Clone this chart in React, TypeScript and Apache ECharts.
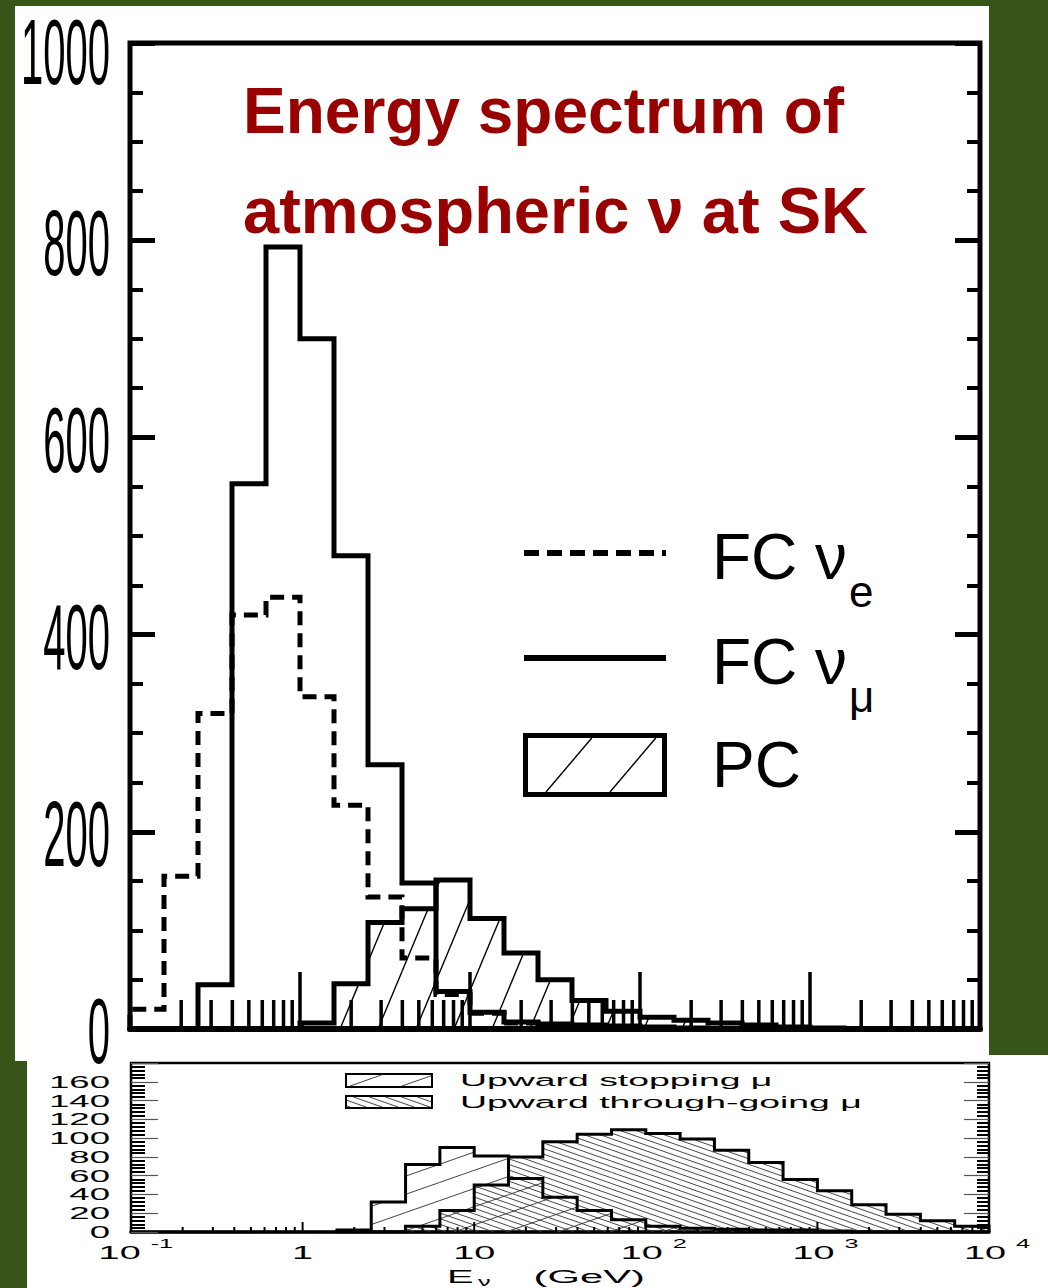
import React, { useEffect, useRef } from 'react';
import * as echarts from 'echarts';

const W = 1048;
const H = 1288;

// ---- Top panel: bins of 0.2 in log10(E/GeV) ----
const topBinLogEdges = [-1.0, -0.8, -0.6, -0.4, -0.2, 0.0, 0.2, 0.4, 0.6, 0.8, 1.0, 1.2, 1.4, 1.6, 1.8, 2.0, 2.2, 2.4, 2.6, 2.8, 3.0, 3.2];
const fcNuE = [20, 155, 320, 420, 438, 337, 227, 134, 72, 35, 16, 6, 3, 2, 1, 0, 0, 0, 0, 0, 0];
const fcNuMu = [0, 0, 45, 553, 793, 700, 480, 268, 148, 38, 17, 7, 5, 4, 3, 2, 1, 0, 0, 0, 0];
const pcEvents = [0, 0, 0, 0, 0, 6, 46, 108, 122, 151, 112, 77, 50, 29, 18, 12, 9, 6, 4, 2, 1];

// ---- Bottom panel ----
const bottomBinLogEdges = [0.2, 0.4, 0.6, 0.8, 1.0, 1.2, 1.4, 1.6, 1.8, 2.0, 2.2, 2.4, 2.6, 2.8, 3.0, 3.2, 3.4, 3.6, 3.8, 4.0];
const upStopMu = [2, 32, 72, 90, 81, 57, 37, 23, 13, 6, 4, 3, 2, 2, 1, 0, 0, 0, 0];
const upThruMu = [0, 0, 6, 23, 50, 80, 96, 104, 109, 105, 99, 87, 74, 56, 44, 29, 19, 12, 6];

// ---- Tick labels ----
const topYTickValues = [0, 200, 400, 600, 800, 1000];
const topYTickLabels = ['0', '200', '400', '600', '800', '1000'];
const bottomYTickValues = [0, 20, 40, 60, 80, 100, 120, 140, 160];
const bottomYTickLabels = ['0', '20', '40', '60', '80', '100', '120', '140', '160'];
const bottomXTickValues = [0.1, 1, 10, 100, 1000, 10000];
const bottomXTickBase = ['10', '1', '10', '10', '10', '10'];
const bottomXTickExp = ['-1', '', '', '2', '3', '4'];
const majorXTicks = [1, 10, 100, 1000];
const decadeStarts = [0.1, 1, 10, 100, 1000];
const minorMultipliers = [2, 3, 4, 5, 6, 7, 8, 9];
const minorXTicks: number[] = [];
decadeStarts.forEach((d) => minorMultipliers.forEach((m) => minorXTicks.push(d * m)));

const FONT = '"Liberation Sans", Arial, Helvetica, sans-serif';

function stepData(logEdges: number[], vals: number[]) {
  const pts: number[][] = [[Math.pow(10, logEdges[0]), 0]];
  vals.forEach((v, i) => pts.push([Math.pow(10, logEdges[i + 1]), v]));
  pts.push([Math.pow(10, logEdges[logEdges.length - 1]), 0]);
  return pts;
}

function binData(logEdges: number[], vals: number[]) {
  const out: number[][] = [];
  vals.forEach((v, i) => {
    if (v > 0) out.push([Math.pow(10, logEdges[i]), Math.pow(10, logEdges[i + 1]), v]);
  });
  return out;
}

function hatch(xa: number, xb: number, yt: number, yb: number, slope: number, spacing: number, dir: number, phase: number) {
  const segs: number[][] = [];
  const h = yb - yt;
  if (h <= 0.5 || xb - xa <= 0) return segs;
  const w = h / slope;
  const cMin = dir > 0 ? xa - w : xa;
  const cMax = dir > 0 ? xb : xb + w;
  const k0 = Math.floor((cMin - phase) / spacing);
  for (let k = k0; k < k0 + 500; k++) {
    const c = phase + k * spacing;
    if (c > cMax) break;
    let u1, u2;
    if (dir > 0) { u1 = (xa - c) * slope; u2 = (xb - c) * slope; }
    else { u1 = (c - xb) * slope; u2 = (c - xa) * slope; }
    const lo = Math.max(0, u1);
    const hi = Math.min(h, u2);
    if (hi - lo > 0.5) segs.push([c + (dir * lo) / slope, yb - lo, c + (dir * hi) / slope, yb - hi]);
  }
  return segs;
}

function hatchLines(segs: number[][], color: string, width: number) {
  return segs.map((s) => ({
    type: 'line',
    silent: true,
    shape: { x1: s[0], y1: s[1], x2: s[2], y2: s[3] },
    style: { stroke: color, lineWidth: width },
  }));
}

function hatchRenderer(slope: number, spacing: number, dir: number, phase: number, color: string, width: number) {
  return (params: any, api: any) => {
    const a = api.coord([api.value(0), 0]);
    const b = api.coord([api.value(1), api.value(2)]);
    const segs = hatch(a[0], b[0], b[1], a[1], slope, spacing, dir, phase);
    return { type: 'group', children: hatchLines(segs, color, width) };
  };
}

function tickRenderer(len: number, width: number) {
  return (params: any, api: any) => {
    const p = api.coord([api.value(0), 0]);
    return {
      type: 'line',
      shape: { x1: p[0], y1: p[1], x2: p[0], y2: p[1] - len },
      style: { stroke: '#000', lineWidth: width },
    };
  };
}

function logAxis(gridIndex: number, lineWidth: number) {
  return {
    type: 'log',
    logBase: 10,
    gridIndex,
    min: 0.1,
    max: 10000,
    axisLine: { show: true, onZero: false, lineStyle: { color: '#000', width: lineWidth } },
    axisTick: { show: false },
    axisLabel: { show: false },
    splitLine: { show: false },
    minorTick: { show: false },
    minorSplitLine: { show: false },
  };
}

function valAxis(gridIndex: number, position: string, max: number, interval: number, split: number,
  majLen: number, majW: number, majColor: string, minLen: number, minW: number) {
  return {
    type: 'value',
    gridIndex,
    position,
    min: 0,
    max,
    interval,
    axisLine: { show: false },
    axisLabel: { show: false },
    splitLine: { show: false },
    axisTick: { show: true, inside: true, length: majLen, lineStyle: { color: majColor, width: majW } },
    minorTick: { show: true, splitNumber: split, length: minLen, lineStyle: { color: '#000', width: minW } },
  };
}

function stepLine(name: string, xi: number, yi: number, data: number[][], width: number, dash?: number[]) {
  return {
    type: 'line',
    name,
    xAxisIndex: xi,
    yAxisIndex: yi,
    step: 'start',
    data,
    symbol: 'none',
    showSymbol: false,
    silent: true,
    z: 5,
    lineStyle: { color: '#000', width, type: dash ? dash : 'solid', join: 'miter', cap: 'butt' },
  };
}

function buildOption() {
  return {
    animation: false,
    backgroundColor: '#375519',
    grid: [
      { left: 130, top: 43, width: 850, height: 986, show: true, borderColor: '#000', borderWidth: 5, backgroundColor: 'transparent', containLabel: false, outerBoundsMode: 'none' },
      { left: 131, top: 1063, width: 858, height: 169, show: true, borderColor: '#000', borderWidth: 2.5, backgroundColor: 'transparent', containLabel: false, outerBoundsMode: 'none' },
    ],
    xAxis: [logAxis(0, 6), logAxis(1, 3.5)],
    yAxis: [
      valAxis(0, 'left', 1000, 200, 4, 25, 5, '#000', 13, 4),
      valAxis(0, 'right', 1000, 200, 4, 25, 5, '#000', 13, 4),
      valAxis(1, 'left', 180, 20, 5, 27, 1.2, '#555', 14, 2),
      valAxis(1, 'right', 180, 20, 5, 25, 1.2, '#555', 12, 2),
    ],
    series: [
      {
        type: 'custom', name: 'PC hatch', xAxisIndex: 0, yAxisIndex: 0, silent: true, z: 3,
        renderItem: hatchRenderer(2.4, 38, 1, 340, '#000', 1.4),
        encode: { x: [0, 1], y: 2 },
        data: binData(topBinLogEdges, pcEvents),
      },
      stepLine('PC', 0, 0, stepData(topBinLogEdges, pcEvents), 5),
      stepLine('FC νe', 0, 0, stepData(topBinLogEdges, fcNuE), 5, [14, 8]),
      stepLine('FC νμ', 0, 0, stepData(topBinLogEdges, fcNuMu), 5),
      {
        type: 'custom', name: 'top major ticks', xAxisIndex: 0, yAxisIndex: 0, silent: true, z: 6,
        renderItem: tickRenderer(57, 3.5), encode: { x: 0, y: 1 },
        data: majorXTicks.map((v) => [v, 0]),
      },
      {
        type: 'custom', name: 'top minor ticks', xAxisIndex: 0, yAxisIndex: 0, silent: true, z: 6,
        renderItem: tickRenderer(29, 3.5), encode: { x: 0, y: 1 },
        data: minorXTicks.map((v) => [v, 0]),
      },
      {
        type: 'custom', name: 'stop hatch', xAxisIndex: 1, yAxisIndex: 2, silent: true, z: 3,
        renderItem: hatchRenderer(0.35, 52, 1, 350, '#444', 1),
        encode: { x: [0, 1], y: 2 },
        data: binData(bottomBinLogEdges, upStopMu),
      },
      {
        type: 'custom', name: 'thru hatch', xAxisIndex: 1, yAxisIndex: 2, silent: true, z: 3,
        renderItem: hatchRenderer(0.35, 16, -1, 350, '#333', 0.9),
        encode: { x: [0, 1], y: 2 },
        data: binData(bottomBinLogEdges, upThruMu),
      },
      stepLine('Upward stopping μ', 1, 2, stepData(bottomBinLogEdges, upStopMu), 3),
      stepLine('Upward through-going μ', 1, 2, stepData(bottomBinLogEdges, upThruMu), 3),
      {
        type: 'custom', name: 'bottom major ticks', xAxisIndex: 1, yAxisIndex: 2, silent: true, z: 6,
        renderItem: tickRenderer(10, 2), encode: { x: 0, y: 1 },
        data: majorXTicks.map((v) => [v, 0]),
      },
      {
        type: 'custom', name: 'bottom minor ticks', xAxisIndex: 1, yAxisIndex: 2, silent: true, z: 6,
        renderItem: tickRenderer(5, 2), encode: { x: 0, y: 1 },
        data: minorXTicks.map((v) => [v, 0]),
      },
    ],
  };
}

function txt(text: string, x: number, y: number, size: number, o: any = {}) {
  const style: any = {
    text,
    fill: o.color ?? '#000',
    fontSize: size,
    fontFamily: FONT,
    fontWeight: o.weight ?? 'normal',
    textAlign: o.align ?? 'left',
    textVerticalAlign: 'middle',
    verticalAlign: 'middle',
  };
  if (o.lh) style.lineHeight = o.lh;
  return { type: 'text', x, y, z: 50, scaleX: o.sx ?? 1, scaleY: o.sy ?? 1, silent: true, style };
}

const CW: Record<string, number> = { '-': 0.584 };
const textW = (s: string, size: number) => s.split('').reduce((a, c) => a + (CW[c] ?? 0.556), 0) * size;

function buildGraphics(chart: any) {
  const px = (ax: number, v: number) => chart.convertToPixel({ xAxisIndex: ax }, v) as number;
  const py = (ax: number, v: number) => chart.convertToPixel({ yAxisIndex: ax }, v) as number;
  const g: any[] = [];
  // white panels
  g.push({ type: 'rect', z: -100, silent: true, shape: { x: 15, y: 6, width: 974, height: 1055 }, style: { fill: '#fff' } });
  g.push({ type: 'rect', z: -100, silent: true, shape: { x: 27, y: 1055, width: 1021, height: 233 }, style: { fill: '#fff' } });

  // title
  g.push(txt('Energy spectrum of', 243, 111, 64, { weight: 'bold', color: '#990000' }));
  g.push(txt('atmospheric ν at SK', 243, 210, 65, { weight: 'bold', color: '#990000' }));

  // top legend
  g.push({ type: 'line', z: 50, shape: { x1: 524, y1: 553, x2: 666, y2: 553 }, style: { stroke: '#000', lineWidth: 6, lineDash: [15, 8] } });
  g.push({ type: 'line', z: 50, shape: { x1: 524, y1: 658, x2: 666, y2: 658 }, style: { stroke: '#000', lineWidth: 6 } });
  g.push({ type: 'rect', z: 50, shape: { x: 525.5, y: 735.5, width: 139, height: 59 }, style: { stroke: '#000', lineWidth: 5, fill: 'none' } });
  hatchLines(hatch(528, 662, 738, 792, 1.18, 64, 1, 546), '#000', 1.4).forEach((l) => g.push({ ...l, z: 50 }));
  g.push(txt('FC ν', 712, 557, 64));
  g.push(txt('e', 849, 591, 44));
  g.push(txt('FC ν', 712, 662, 64));
  g.push(txt('μ', 849, 696, 44));
  g.push(txt('PC', 712, 765, 64));

  // top y tick labels (tall, condensed); the top one is nudged so it stays inside the page
  topYTickValues.forEach((v, i) => {
    const y = Math.max(py(0, v) + 2, 52);
    g.push(txt(topYTickLabels[i], 110, y, 50, { align: 'right', sx: 0.8, sy: 1.85 }));
  });

  // bottom y tick labels (wide)
  bottomYTickValues.forEach((v, i) => {
    g.push(txt(bottomYTickLabels[i], 110, py(2, v), 17, { align: 'right', sx: 2.15 }));
  });

  // bottom x tick labels
  const SX = 2.1;
  bottomXTickValues.forEach((v, i) => {
    const tx = px(1, v);
    const base = bottomXTickBase[i];
    const exp = bottomXTickExp[i];
    if (!exp) {
      g.push(txt(base, tx, 1253, 18, { align: 'center', sx: SX }));
    } else {
      const bw = textW(base, 18) * SX;
      const ew = textW(exp, 12) * SX;
      const gap = 10;
      const start = tx + 8 - (bw + gap + ew) / 2;
      g.push(txt(base, start, 1253, 18, { sx: SX }));
      g.push(txt(exp, start + bw + gap, 1244, 12, { sx: SX }));
    }
  });

  // x title
  g.push(txt('E', 447, 1277, 19, { sx: 2.1, lh: 19 }));
  g.push(txt('ν', 478, 1282, 12, { sx: 2.1, lh: 12 }));
  g.push(txt('(GeV)', 645, 1277, 19, { sx: 2.2, align: 'right', lh: 19 }));

  // bottom legend
  g.push({ type: 'rect', z: 50, shape: { x: 346, y: 1074, width: 86, height: 13 }, style: { stroke: '#000', lineWidth: 2, fill: '#fff' } });
  hatchLines(hatch(347, 431, 1075, 1086, 0.35, 52, 1, 350), '#444', 1).forEach((l) => g.push({ ...l, z: 51 }));
  g.push({ type: 'rect', z: 50, shape: { x: 346, y: 1096, width: 86, height: 12 }, style: { stroke: '#000', lineWidth: 2, fill: '#fff' } });
  hatchLines(hatch(347, 431, 1097, 1107, 0.35, 16, -1, 350), '#333', 0.9).forEach((l) => g.push({ ...l, z: 51 }));
  g.push(txt('Upward stopping μ', 460, 1080, 17, { sx: 2.2 }));
  g.push(txt('Upward through-going μ', 460, 1102, 17, { sx: 2.2 }));

  return g;
}

export default function App() {
  const ref = useRef<HTMLDivElement>(null);
  useEffect(() => {
    const chart = echarts.init(ref.current as HTMLDivElement, null, { renderer: 'svg', width: W, height: H });
    chart.setOption(buildOption() as any);
    chart.setOption({ graphic: buildGraphics(chart) } as any);
    return () => chart.dispose();
  }, []);
  return <div ref={ref} style={{ position: 'absolute', left: 0, top: 0, width: W, height: H }} />;
}
